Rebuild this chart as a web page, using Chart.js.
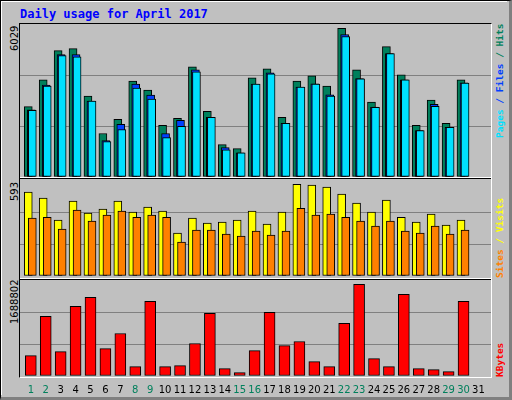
<!DOCTYPE html>
<html><head><meta charset="utf-8">
<script src="https://cdn.jsdelivr.net/npm/chart.js@4"></script>
<style>
html,body{margin:0;padding:0;}
body{width:512px;height:400px;background:#c0c0c0;position:relative;overflow:hidden;font-family:"DejaVu Sans Mono",monospace;}
#frame{position:absolute;left:0;top:0;width:508px;height:396px;border-top:1px solid #000;border-left:1px solid #000;border-right:3px solid #808080;border-bottom:3px solid #808080;box-sizing:content-box;}
#inner{position:absolute;left:1px;top:1px;width:505px;height:393px;border-top:1px solid #fff;border-left:1px solid #fff;}
.title{position:absolute;left:20px;top:7px;color:#0000ff;font-weight:bold;font-size:12px;}
.panel{position:absolute;left:20px;width:471px;}
.rot{position:absolute;transform-origin:0 0;transform:rotate(-90deg);white-space:nowrap;font-size:9.5px;font-weight:bold;line-height:11px;}
.num{font-family:'DejaVu Sans';font-weight:normal;font-size:10px;color:#000;}
.box{position:absolute;left:19px;top:23px;width:471px;height:353px;border-top:1px solid #000;border-left:1px solid #000;border-right:1px solid #fff;border-bottom:1px solid #fff;}
.sep{position:absolute;left:20px;width:471px;height:1px;}
</style></head><body>
<div id="frame"></div><div id="inner"></div>
<div class="title">Daily usage for April 2017</div>
<div class="box"></div>
<div class="panel" style="top:24px;height:153px"><canvas id="c1"></canvas></div>
<div class="sep" style="top:177px;background:#fff"></div>
<div class="sep" style="top:178px;background:#000"></div>
<div class="panel" style="top:179px;height:99px"><canvas id="c2"></canvas></div>
<div class="sep" style="top:278px;background:#fff"></div>
<div class="sep" style="top:279px;background:#000"></div>
<div class="panel" style="top:280px;height:116px"><canvas id="c3"></canvas></div>
<div class="rot num" style="left:9px;top:51px;">6029</div>
<div class="rot num" style="left:9px;top:201px;">593</div>
<div class="rot num" style="left:9px;top:324px;">1688802</div>
<div class="rot" style="left:494px;top:138px;"><span style="color:#00e0ff">Pages</span> <span style="color:#0040ff">/</span> <span style="color:#0040ff">Files</span> <span style="color:#00805c">/</span> <span style="color:#00805c">Hits</span></div>
<div class="rot" style="left:494px;top:278px;"><span style="color:#ff8000">Sites</span> <span style="color:#ffff00">/</span> <span style="color:#ffff00">Visits</span></div>
<div class="rot" style="left:494px;top:377px;color:#ff0000">KBytes</div>
<script>
const days = Array.from({length:31},(_, i)=>i+1);
const weekendDays = [1,2,8,9,15,16,22,23,29,30];
const hits  = [2857,3937,5126,5208,3281,1763,2338,3896,3527,2092,2379,4470,2666,1312,1148,4019,4388,2420,3896,4101,3691,6029,4347,3035,5290,4142,2092,3117,2174,3937,0];
const files = [2720,3732,4962,4962,3076,1476,2133,3773,3322,1763,2297,4347,2420,1189,984,3773,4224,2180,3650,3780,3330,5782,3990,2840,5003,3937,1886,2953,2010,3820,0];
const pages = [2707,3691,4921,4880,3076,1435,1927,3609,3158,1599,2051,4265,2420,1107,984,3773,4183,2174,3650,3773,3281,5700,3978,2830,5003,3937,1886,2871,2010,3814,0];
const visits= [542,503,361,484,406,432,484,413,445,419,277,374,342,348,361,419,335,413,593,587,574,529,471,413,490,380,348,400,329,361,0];
const sites = [374,380,303,426,355,393,419,380,393,380,219,297,297,271,258,290,264,290,438,393,400,380,355,322,355,290,277,322,271,297,0];
const kbytes= [376000,1097000,450000,1282000,1448000,505000,783000,173000,1374000,173000,191000,598000,1153000,136000,62000,468000,1171000,561000,635000,265000,173000,968000,1688802,320000,173000,1504000,136000,117000,80000,1374000,0];

const XMIN=0.155, XMAX=31.72;
function pts(arr){return arr.map((v,i)=>({x:days[i],y:v}));}
function xAxis(shift){return {type:'linear',offset:false,min:XMIN+shift,max:XMAX+shift,display:false};}
function yAxis(max){return {min:0,max:max,display:true,border:{display:false},
  ticks:{display:false,stepSize:max/3},
  grid:{drawTicks:false,color:(c)=>(c.index===1||c.index===2)?'#808080':'rgba(0,0,0,0)',lineWidth:1}};}
function ds(data,color,axis,w){return {data:pts(data),backgroundColor:color,borderColor:'#000',borderWidth:1,borderSkipped:false,barThickness:w,xAxisID:axis,grouped:false};}
const base={responsive:true,maintainAspectRatio:false,animation:false,events:[],
  plugins:{legend:{display:false},tooltip:{enabled:false}}};

new Chart(document.getElementById('c1'),{type:'bar',
 data:{datasets:[ds(pages,'#00e0ff','xp',8),ds(files,'#0040ff','xf',8),ds(hits,'#00805c','xh',8)]},
 options:{...base,layout:{padding:0},scales:{xp:xAxis(0.02),xf:xAxis(0.09),xh:xAxis(0.29),y:yAxis(6207)}}});

new Chart(document.getElementById('c2'),{type:'bar',
 data:{datasets:[ds(sites,'#ff8000','xs',8),ds(visits,'#ffff00','xv',8)]},
 options:{...base,layout:{padding:{top:2,bottom:2}},scales:{xs:xAxis(0.02),xv:xAxis(0.29),y:yAxis(614)}}});

const labelPlugin={id:'daylabels',afterDraw(chart){
  const ctx=chart.ctx, xs=chart.scales.xk, y=chart.chartArea.bottom+14;
  ctx.save();ctx.font='10px "DejaVu Sans"';ctx.textAlign='center';ctx.textBaseline='middle';
  days.forEach(d=>{ctx.fillStyle=weekendDays.includes(d)?'#00805c':'#000';
    ctx.fillText(String(d),xs.getPixelForValue(d),y);});
  ctx.restore();}};
new Chart(document.getElementById('c3'),{type:'bar',
 data:{datasets:[ds(kbytes,'#ff0000','xk',11)]},
 options:{...base,layout:{padding:{top:1,bottom:20}},scales:{xk:xAxis(0.12),y:yAxis(1750000)}},
 plugins:[labelPlugin]});
</script>
</body></html>
